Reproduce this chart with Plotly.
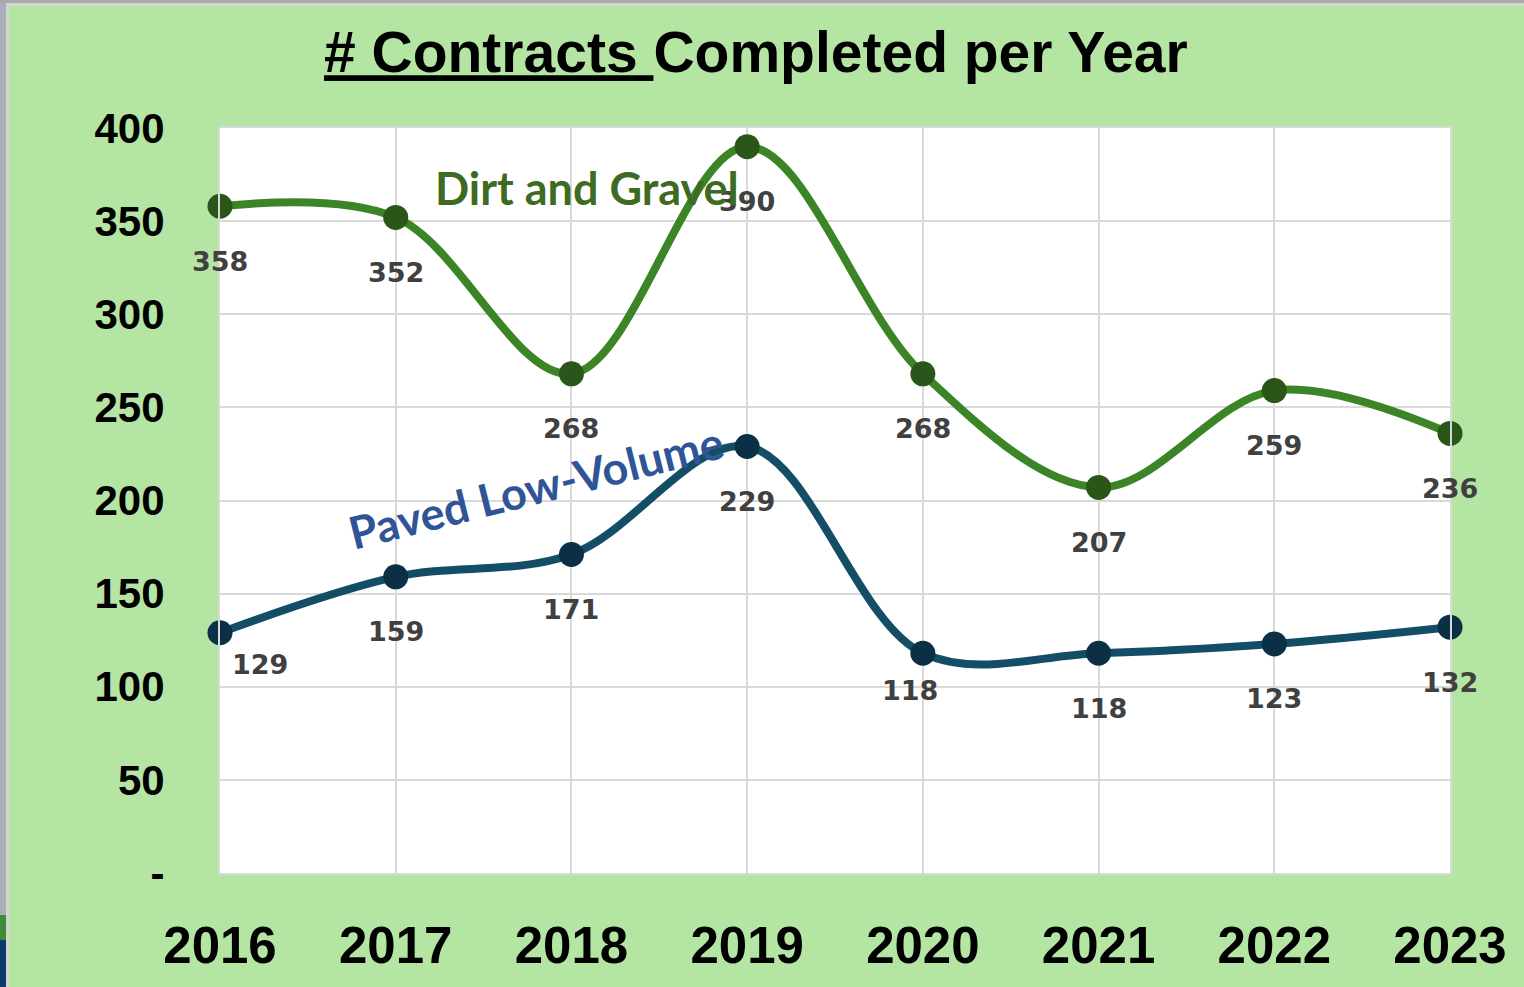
import plotly.graph_objects as go

# data
years = ["2016", "2017", "2018", "2019", "2020", "2021", "2022", "2023"]
dirt_gravel = [358, 352, 268, 390, 268, 207, 259, 236]
paved_low_volume = [129, 159, 171, 229, 118, 118, 123, 132]
y_ticks = [0, 50, 100, 150, 200, 250, 300, 350, 400]
y_tick_text = ["-", "50", "100", "150", "200", "250", "300", "350", "400"]

x_pos = list(range(len(years)))

GREEN_LINE = "#3b8526"
GREEN_MARK = "#2a5719"
BLUE_LINE = "#134e66"
BLUE_MARK = "#0b2f44"
LABEL_GRAY = "#404040"

fig = go.Figure()

fig.add_trace(go.Scatter(
    x=x_pos, y=dirt_gravel, mode="lines+markers", name="Dirt and Gravel",
    line=dict(color=GREEN_LINE, width=8, shape="spline", smoothing=1),
    marker=dict(color=GREEN_MARK, size=25), cliponaxis=False))
fig.add_trace(go.Scatter(
    x=x_pos, y=paved_low_volume, mode="lines+markers", name="Paved Low-Volume",
    line=dict(color=BLUE_LINE, width=8, shape="spline", smoothing=1),
    marker=dict(color=BLUE_MARK, size=25), cliponaxis=False))

# data labels under the points (a couple are nudged sideways like the original)
label_font = dict(family="DejaVu Sans", size=27, color=LABEL_GRAY, weight="bold")
paved_nudge = {0: (40, -32), 4: (-13, -37)}
for i, v in enumerate(dirt_gravel):
    fig.add_annotation(x=x_pos[i], y=v, text=str(v), showarrow=False,
                       yshift=-55, font=label_font)
for i, v in enumerate(paved_low_volume):
    dx, dy = paved_nudge.get(i, (0, -55))
    fig.add_annotation(x=x_pos[i], y=v, text=str(v), showarrow=False,
                       xshift=dx, yshift=dy, font=label_font)

# series names written on the chart
fig.add_annotation(x=2.09, y=368, text="<b>Dirt and Gravel</b>", showarrow=False,
                   font=dict(family="Lato", size=45, color="#3d6b22"))
fig.add_annotation(x=1.8, y=207, text="<b>Paved Low-Volume</b>", showarrow=False,
                   textangle=-14, font=dict(family="Lato", size=45, color="#2f5597"))

# window edges of the screenshot
edges = [
    (-0.1789, -0.1740, -0.0564, 1.1718, "#a9aebb"),
    (-0.1740, -0.1715, -0.1530, 1.1718, "#d4d4d4"),
    (-0.1789, -0.1740, -0.0899, -0.0564, "#3c8c3c"),
    (-0.1789, -0.1740, -0.1530, -0.0899, "#0c3a6a"),
    (-0.1789, 1.0602, 1.1678, 1.1718, "#a8a8a8"),
    (-0.1715, 1.0602, 1.1638, 1.1678, "#d4d4d4"),
]
for x0, x1, y0, y1, c in edges:
    fig.add_shape(type="rect", xref="paper", yref="paper", x0=x0, x1=x1,
                  y0=y0, y1=y1, fillcolor=c, line_width=0, layer="below")

fig.update_layout(
    width=1524, height=987,
    margin=dict(l=220, r=74, t=128, b=114),
    paper_bgcolor="#b5e5a3", plot_bgcolor="white",
    showlegend=False,
    title=dict(text="<b><u># Contracts </u>Completed per Year</b>",
               x=0.496, xref="container", xanchor="center",
               y=0.947, yref="container", yanchor="middle",
               font=dict(family="Liberation Sans", size=57, color="black")),
    xaxis=dict(range=[0, 7], tickvals=x_pos, ticktext=years, automargin=False,
               showgrid=True, gridcolor="#d9d9d9", gridwidth=2,
               showline=True, linecolor="#d9d9d9", linewidth=2, mirror=True,
               ticks="", ticklabelstandoff=27, zeroline=False,
               tickfont=dict(family="Liberation Sans", size=51, color="black", weight="bold")),
    yaxis=dict(range=[0, 400], tickvals=y_ticks, ticktext=y_tick_text, automargin=False,
               showgrid=True, gridcolor="#d9d9d9", gridwidth=2,
               showline=True, linecolor="#d9d9d9", linewidth=2, mirror=True,
               ticks="", ticklabelstandoff=45, zeroline=False,
               tickfont=dict(family="Liberation Sans", size=42, color="black", weight="bold")),
)

fig.write_html("out.html", config={"displayModeBar": False},
               post_script="document.body.style.margin='0';")
